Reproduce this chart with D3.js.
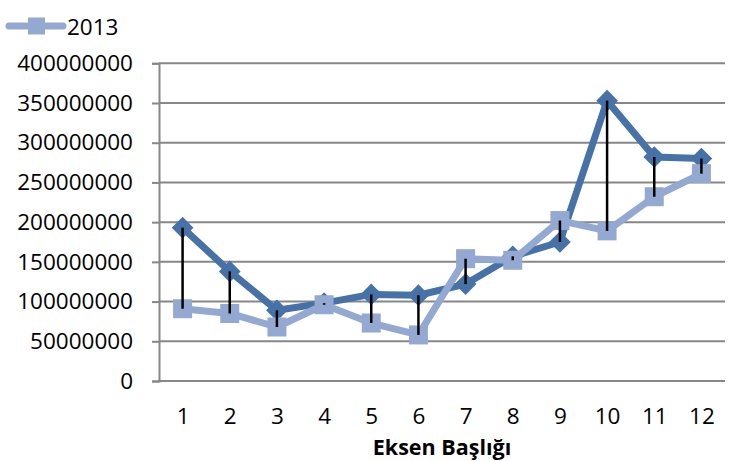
<!DOCTYPE html>
<html>
<head>
<meta charset="utf-8">
<script src="https://cdn.jsdelivr.net/npm/d3@7"></script>
<style>
  body { margin: 0; background: #fff; }
  svg { display: block; font-family: "Open Sans", sans-serif; }
</style>
</head>
<body>
<script>
// data
var months = ["1", "2", "3", "4", "5", "6", "7", "8", "9", "10", "11", "12"];
var series2012 = [193e6, 138e6, 89e6, 98e6, 109e6, 108e6, 122e6, 157e6, 175e6, 353e6, 282e6, 280e6];
var series2013 = [91e6, 85e6, 68e6, 96e6, 73e6, 58e6, 154e6, 152e6, 202e6, 189e6, 232e6, 261e6];
var yTicks = [0, 50e6, 100e6, 150e6, 200e6, 250e6, 300e6, 350e6, 400e6];
var legendName = "2013";
var axisTitle = "Eksen Başlığı";

var width = 739, height = 461;
var plot = { left: 159, right: 725, top: 63.3, bottom: 381 };

var darkBlue = "#4672a8", lightBlue = "#94a9d2", gridGray = "#878787";

var svg = d3.select("body").append("svg")
    .attr("width", width)
    .attr("height", height);

// scales
var x = d3.scalePoint().domain(months).range([plot.left, plot.right]).padding(0.5);
var y = d3.scaleLinear().domain([0, 400e6]).range([plot.bottom, plot.top]);

// gridlines
svg.append("g")
    .selectAll("line")
    .data(yTicks.slice(1))
    .enter().append("line")
    .attr("x1", plot.left).attr("x2", plot.right)
    .attr("y1", function (d) { return y(d); })
    .attr("y2", function (d) { return y(d); })
    .attr("stroke", gridGray)
    .attr("stroke-width", 2);

// y axis
var yAxis = svg.append("g")
    .attr("transform", "translate(" + plot.left + ",0)")
    .call(d3.axisLeft(y).tickValues(yTicks).tickFormat(d3.format("d")).tickSize(7).tickPadding(19));
yAxis.selectAll("line, path").attr("stroke", gridGray).attr("stroke-width", 2);
yAxis.selectAll("text").attr("font-size", "22.5px").attr("fill", "#000")
    .attr("font-family", "'Open Sans', sans-serif");

// x axis
var xAxis = svg.append("g")
    .attr("transform", "translate(0," + plot.bottom + ")")
    .call(d3.axisBottom(x).tickSize(0).tickPadding(27));
xAxis.select(".domain").attr("stroke", gridGray).attr("stroke-width", 2)
    .attr("d", "M" + (plot.left - 1) + ",0H" + plot.right);
xAxis.selectAll("text").attr("font-size", "22.5px").attr("fill", "#000")
    .attr("font-family", "'Open Sans', sans-serif");

// lines
var line = d3.line()
    .x(function (d, i) { return x(months[i]); })
    .y(function (d) { return y(d); });

svg.append("path")
    .datum(series2012)
    .attr("d", line)
    .attr("fill", "none")
    .attr("stroke", darkBlue)
    .attr("stroke-width", 7)
    .attr("stroke-linejoin", "round")
    .attr("stroke-linecap", "round");

svg.append("g")
    .selectAll("path")
    .data(series2012)
    .enter().append("path")
    .attr("d", d3.symbol().type(d3.symbolDiamond2).size(300))
    .attr("transform", function (d, i) { return "translate(" + x(months[i]) + "," + y(d) + ")"; })
    .attr("fill", darkBlue);

svg.append("path")
    .datum(series2013)
    .attr("d", line)
    .attr("fill", "none")
    .attr("stroke", lightBlue)
    .attr("stroke-width", 7)
    .attr("stroke-linejoin", "round")
    .attr("stroke-linecap", "round");

svg.append("g")
    .selectAll("rect")
    .data(series2013)
    .enter().append("rect")
    .attr("x", function (d, i) { return x(months[i]) - 9.5; })
    .attr("y", function (d) { return y(d) - 9.5; })
    .attr("width", 19)
    .attr("height", 19)
    .attr("fill", lightBlue);

// high-low lines
svg.append("g")
    .selectAll("line")
    .data(months)
    .enter().append("line")
    .attr("x1", function (d) { return x(d); })
    .attr("x2", function (d) { return x(d); })
    .attr("y1", function (d, i) { return y(series2012[i]); })
    .attr("y2", function (d, i) { return y(series2013[i]); })
    .attr("stroke", "#000")
    .attr("stroke-width", 2.5);

// legend
var legend = svg.append("g");
legend.append("line")
    .attr("x1", 9).attr("x2", 63).attr("y1", 26).attr("y2", 26)
    .attr("stroke", lightBlue).attr("stroke-width", 7).attr("stroke-linecap", "round");
legend.append("rect")
    .attr("x", 28).attr("y", 17.5).attr("width", 17).attr("height", 17)
    .attr("fill", lightBlue);
legend.append("text")
    .attr("x", 67).attr("y", 26)
    .attr("dominant-baseline", "central")
    .attr("font-size", "22.5px")
    .text(legendName);

// axis title
svg.append("text")
    .attr("x", (plot.left + plot.right) / 2)
    .attr("y", 455)
    .attr("text-anchor", "middle")
    .attr("font-size", "21.5px")
    .attr("font-weight", "bold")
    .text(axisTitle);
</script>
</body>
</html>
